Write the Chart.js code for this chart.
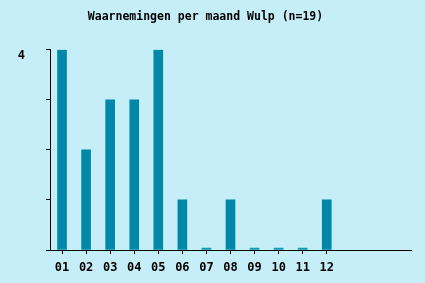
<!DOCTYPE html>
<html>
<head>
<meta charset="utf-8">
<script src="https://cdn.jsdelivr.net/npm/chart.js@4"></script>
<style>
    html, body { margin: 0; padding: 0; background: #c6eef8; }
    #wrap { width: 425px; height: 283px; }
</style>
</head>
<body>
<div id="wrap"><canvas id="chart" width="425" height="283"></canvas></div>
<script>
// maanden (3 lege plekken rechts zoals in het origineel)
const months = ['01', '02', '03', '04', '05', '06', '07', '08', '09', '10', '11', '12', '', '', ''];
const counts = [4, 2, 3, 3, 4, 1, 0, 1, 0, 0, 0, 1];
const yTicksShown = [4];

const FONT = "'DejaVu Sans Mono', monospace";

new Chart(document.getElementById('chart'), {
    type: 'bar',
    data: {
        labels: months,
        datasets: [{
            data: counts,
            backgroundColor: ctx => ctx.raw === 0 ? '#1496b2' : '#0088a8',
            barThickness: 9,
            minBarLength: 2
        }]
    },
    options: {
        responsive: false,
        animation: false,
        layout: { padding: { left: 0, right: 14, top: 0, bottom: 0 } },
        plugins: {
            legend: { display: false },
            tooltip: { enabled: false },
            title: {
                display: true,
                text: 'Waarnemingen per maand Wulp (n=19)',
                color: '#000',
                font: { family: FONT, size: 11.5, weight: 'bold' },
                padding: { top: 10, bottom: 26 }
            }
        },
        scales: {
            x: {
                afterFit: scale => { scale.height = 33; },
                border: { color: '#000', width: 1 },
                grid: {
                    offset: false,
                    drawOnChartArea: false,
                    tickLength: 4,
                    tickColor: ctx => ctx.index < 12 ? '#000' : 'rgba(0,0,0,0)'
                },
                ticks: {
                    color: '#000',
                    padding: 7,
                    maxRotation: 0,
                    autoSkip: false,
                    font: { family: FONT, size: 12, weight: 'bold' }
                }
            },
            y: {
                min: 0,
                max: 4,
                afterFit: scale => { scale.width = 50; },
                border: { color: '#000', width: 1 },
                grid: { drawOnChartArea: false, tickLength: 4, tickColor: '#000' },
                ticks: {
                    stepSize: 1,
                    color: '#000',
                    padding: 21,
                    labelOffset: 6,
                    font: { family: FONT, size: 12, weight: 'bold' },
                    callback: v => yTicksShown.includes(v) ? String(v) : ''
                }
            }
        }
    }
});
</script>
</body>
</html>
